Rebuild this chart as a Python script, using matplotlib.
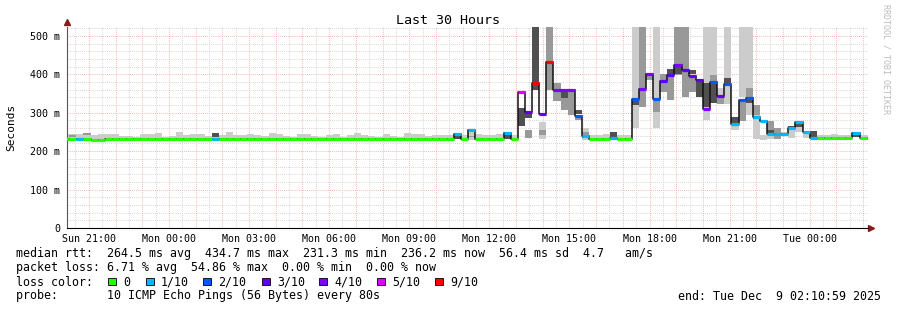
"""SmokePing style latency chart - last 30 hours."""

import numpy as np
import matplotlib
matplotlib.use("Agg")
import matplotlib.pyplot as plt
from matplotlib.patches import Rectangle

W, H = 897, 310
BIN_H = 16 / 60          # one consolidated step = 16 minutes
T0 = 20.0                # first bin start, hours after Sun 00:00
START, END = 20 + 11 / 60, 50 + 11 / 60   # Sun 20:11 .. Tue 02:11
YMAX = 523

tick_hours = [21, 24, 27, 30, 33, 36, 39, 42, 45, 48]
tick_labels = ["Sun 21:00", "Mon 00:00", "Mon 03:00", "Mon 06:00", "Mon 09:00",
               "Mon 12:00", "Mon 15:00", "Mon 18:00", "Mon 21:00", "Tue 00:00"]
ytick_vals = [0, 100, 200, 300, 400, 500]
ytick_labels = ["0", "100 m", "200 m", "300 m", "400 m", "500 m"]

# median rtt per 16 min bin (ms)
median = [
    232, 232, 232, 232, 230, 230, 232, 232, 232, 232,
    232, 232, 232, 232, 232, 232, 232, 232, 232, 232,
    232, 231, 232, 232, 232, 232, 232, 232, 232, 232,
    232, 232, 232, 232, 232, 232, 232, 232, 232, 232,
    232, 232, 232, 232, 232, 232, 232, 232, 232, 232,
    232, 232, 232, 232, 232, 245, 232, 256, 232, 232,
    232, 232, 246, 232, 355, 302, 378, 296, 432, 358,
    360, 358, 292, 240, 232, 232, 232, 233, 232, 232,
    336, 362, 400, 336, 383, 397, 425, 412, 396, 385,
    310, 380, 344, 375, 270, 333, 337, 290, 278, 244,
    244, 245, 261, 275, 250, 234, 233, 233, 233, 233,
    233, 247, 234, 234,
]
# lost pings out of 10 per bin
loss = [
    0, 0, 1, 0, 0, 0, 0, 0, 0, 0,
    0, 0, 0, 0, 0, 0, 0, 0, 0, 0,
    0, 1, 0, 0, 0, 0, 0, 0, 0, 0,
    0, 0, 0, 0, 0, 0, 0, 0, 0, 0,
    0, 0, 0, 0, 0, 0, 0, 0, 0, 0,
    0, 0, 0, 0, 0, 1, 0, 1, 0, 0,
    0, 0, 1, 0, 5, 3, 9, 3, 9, 4,
    4, 4, 2, 1, 0, 0, 0, 1, 0, 0,
    2, 4, 4, 2, 3, 3, 4, 3, 3, 3,
    4, 2, 3, 2, 1, 2, 2, 1, 1, 1,
    1, 1, 1, 1, 1, 1, 0, 0, 0, 0,
    0, 1, 0, 0,
]
# top of the light smoke in the quiet period (bins 0-54)
quiet_top = [
    245, 245, 245, 248, 243, 245, 245, 245, 240, 240,
    238, 245, 245, 247, 238, 240, 250, 243, 245, 245,
    240, 247, 243, 250, 243, 243, 245, 242, 240, 248,
    245, 240, 236, 245, 245, 240, 238, 243, 245, 238,
    243, 248, 243, 240, 238, 245, 240, 238, 248, 245,
    245, 240, 243, 243, 243,
]
# (bin, low, high) smoke bands
smoke_light = [
    (56, 229, 243), (57, 229, 256), (58, 229, 244), (59, 229, 242), (60, 229, 243),
    (61, 229, 244), (63, 229, 242), (67, 232, 276), (73, 229, 260), (74, 229, 243),
    (75, 229, 242), (76, 229, 244), (78, 229, 243), (79, 229, 242), (80, 259, 523),
    (83, 260, 523), (90, 281, 523), (91, 398, 523), (92, 344, 365), (93, 322, 523),
    (94, 255, 270), (95, 342, 523), (96, 295, 523), (97, 232, 320), (98, 229, 242),
    (99, 232, 244), (101, 240, 250), (102, 234, 264), (103, 250, 262), (104, 233, 250),
    (106, 229, 243), (107, 229, 242), (108, 229, 244), (109, 229, 242), (110, 229, 243),
    (112, 229, 242), (113, 229, 242),
]
smoke_mid = [
    (1, 238, 242), (3, 241, 248), (57, 236, 240), (65, 234, 255), (67, 242, 255),
    (68, 360, 523), (69, 330, 376), (70, 307, 339), (71, 294, 356), (72, 282, 291),
    (73, 243, 250), (81, 316, 523), (82, 385, 400), (83, 303, 333), (84, 355, 400),
    (85, 333, 397), (86, 398, 523), (87, 341, 523), (88, 354, 396), (91, 382, 398),
    (92, 323, 344), (95, 278, 333), (96, 340, 365), (97, 293, 320), (99, 247, 279),
    (100, 231, 259),
]
smoke_dark = [
    (21, 236, 247), (55, 231, 244), (62, 231, 244), (64, 266, 311), (65, 286, 305),
    (66, 360, 523), (70, 339, 358), (72, 297, 306), (73, 234, 238), (77, 237, 250),
    (80, 321, 333), (85, 400, 414), (86, 400, 420), (88, 400, 410), (89, 342, 385),
    (90, 314, 377), (91, 325, 377), (93, 378, 391), (94, 274, 290), (96, 326, 337),
    (97, 283, 290), (99, 244, 255), (102, 261, 266), (103, 262, 275), (105, 236, 253),
    (111, 236, 250),
]

loss_colors = {0: "#26ff00", 1: "#00b8ff", 2: "#0059ff", 3: "#5e00ff",
               4: "#7e00ff", 5: "#dd00ff", 9: "#ff0000"}
loss_names = ["0", "1/10", "2/10", "3/10", "4/10", "5/10", "9/10"]

MONO = "DejaVu Sans Mono"
plt.rcParams["font.family"] = MONO

fig = plt.figure(figsize=(W / 100, H / 100), dpi=100)
fig.patch.set_facecolor("white")
ax = fig.add_axes([67 / W, (H - 228) / H, 801 / W, 201 / H])
ax.set_xlim(START, END)
ax.set_ylim(0, YMAX)

# grid
dots = (0, (1, 1.5))
minor_h = [v for v in range(20, YMAX, 20) if v % 100]
ax.hlines(minor_h, START, END, colors="#c8c8c8", lw=0.6, linestyles=dots, zorder=0)
ax.hlines([100, 200, 300, 400, 500], START, END, colors="#f0a0a0", lw=0.6,
          linestyles=dots, zorder=0)
half = np.arange(20.5, END, 1.0)
ax.vlines(half, 0, YMAX, colors="#c8c8c8", lw=0.6, linestyles=dots, zorder=0)
ax.vlines(np.arange(21, END, 1.0), 0, YMAX, colors="#f0a0a0", lw=0.6,
          linestyles=dots, zorder=0)

# smoke
n = len(median)
starts = T0 + BIN_H * np.arange(n)
q = np.arange(len(quiet_top))
ax.bar(starts[q], np.array(quiet_top) - 229, bottom=229, width=BIN_H,
       align="edge", color="#cccccc", linewidth=0, zorder=1)
for band, col in ((smoke_light, "#cccccc"), (smoke_mid, "#999999"),
                  (smoke_dark, "#505050")):
    idx = [b[0] for b in band]
    lo = np.array([b[1] for b in band])
    hi = np.array([b[2] for b in band])
    ax.bar(starts[idx], hi - lo, bottom=lo, width=BIN_H, align="edge",
           color=col, linewidth=0, zorder=1)

# median line: black steps, loss coloured bars on top
edges = np.append(starts, starts[-1] + BIN_H)
ax.step(edges, median + [median[-1]], where="post", color="#111111",
        lw=1.1, zorder=2)
ax.hlines(median, starts, starts + BIN_H, colors=[loss_colors[l] for l in loss],
          lw=2.3, zorder=3)

# axes
for s in ("top", "right"):
    ax.spines[s].set_visible(False)
ax.spines["left"].set_color("#555555")
ax.spines["bottom"].set_color("black")
ax.set_xticks(tick_hours)
ax.set_xticklabels(tick_labels, fontsize=7.2)
ax.set_yticks(ytick_vals)
ax.set_yticklabels(ytick_labels, fontsize=7.2)
ax.tick_params(length=0)
ax.tick_params(axis="x", pad=4.5)
ax.tick_params(axis="y", pad=5)
ax.plot([START], [YMAX + 12], marker="^", ms=4, color="#8b1a1a", clip_on=False)
ax.plot([END + 0.1], [0], marker=">", ms=4, color="#8b1a1a", clip_on=False)

fig.text(11 / W, 1 - 127 / H, "Seconds", rotation=90, ha="center", va="center",
         fontsize=8)
fig.text(448 / W, 1 - 20 / H, "Last 30 Hours", ha="center", va="center", fontsize=9.6)
fig.text(886 / W, 1 - 4 / H, "RRDTOOL / TOBI OETIKER", rotation=270, ha="center",
         va="top", fontsize=6, color="#bbbbbb")

# legend lines
fs = 8.4
lines = [
    (254, "median rtt:  264.5 ms avg  434.7 ms max  231.3 ms min  236.2 ms now  56.4 ms sd  4.7   am/s"),
    (268, "packet loss: 6.71 % avg  54.86 % max  0.00 % min  0.00 % now"),
    (282, "loss color:"),
    (296, "probe:       10 ICMP Echo Pings (56 Bytes) every 80s"),
]
for y, txt in lines:
    fig.text(16 / W, 1 - y / H, txt, ha="left", va="center", fontsize=fs)
fig.text(881 / W, 1 - 296 / H, "end: Tue Dec  9 02:10:59 2025", ha="right",
         va="center", fontsize=fs)

sq_x = [108, 146, 203, 262, 319, 377, 435]
for x0, key, name in zip(sq_x, sorted(loss_colors), loss_names):
    fig.patches.append(Rectangle((x0 / W, 1 - 285 / H), 7.5 / W, 7.5 / H,
                                 transform=fig.transFigure, facecolor=loss_colors[key],
                                 edgecolor="black", lw=0.6))
    fig.text((x0 + 15) / W, 1 - 282 / H, name, ha="left", va="center", fontsize=fs)

fig.savefig("out.png", dpi=100)
